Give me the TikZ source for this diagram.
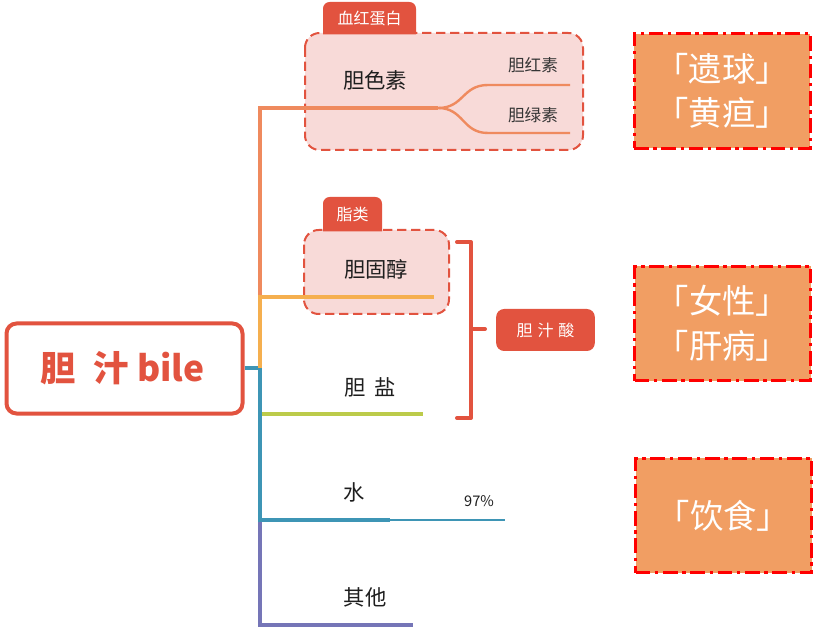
\documentclass[tikz,border=0pt]{standalone}
\usepackage{fontspec}
\setmainfont{Noto Sans CJK SC}
\definecolor{mred}{HTML}{E2533F}
\definecolor{csalmon}{HTML}{EF8A5E}
\definecolor{cyel}{HTML}{F5AF4F}
\definecolor{cgrn}{HTML}{BCCB4A}
\definecolor{cteal}{HTML}{3E95B5}
\definecolor{cpurp}{HTML}{7575B7}
\definecolor{pinkf}{HTML}{F8DAD8}
\definecolor{orf}{HTML}{F19E63}
\definecolor{dashred}{HTML}{FF0000}
\definecolor{txtdark}{HTML}{1E1E1E}
\begin{document}
\begin{tikzpicture}[x=0.75pt,y=-0.75pt,
  lbl/.style={font=\fontsize{16}{18}\selectfont, text=txtdark, inner sep=0pt},
  sublbl/.style={font=\fontsize{12.5}{14}\selectfont, text=txtdark!90, inner sep=0pt},
  rootbox/.style={draw=mred, line width=3pt, rounded corners=7.5pt, fill=white,
    minimum width=177pt, minimum height=67.5pt, inner sep=0pt,
    text=mred, font=\fontsize{26.5}{28}\selectfont\bfseries},
  dbox/.style={draw=mred, fill=pinkf, line width=1.5pt, rounded corners=11pt,
    dash pattern=on 7pt off 3.5pt},
  tagtext/.style={text=white, font=\fontsize{12}{14}\selectfont, inner sep=0pt},
  acidbox/.style={fill=mred, rounded corners=6pt, minimum width=74pt, minimum height=31.5pt,
    text=white, font=\fontsize{12}{14}\selectfont, inner sep=0pt},
  orbox/.style={fill=orf, draw=dashred, line width=2.25pt,
    dash pattern=on 11pt off 3.5pt on 2.5pt off 3.5pt,
    minimum width=132pt, minimum height=86pt, inner sep=0pt, align=center,
    text=white, font=\fontsize{25}{33.5}\selectfont},
  trunk/.style={line width=3.5pt},
  hline/.style={line width=2.4pt},
  thin/.style={line width=1.8pt}]
\useasboundingbox (0,0) rectangle (816,630);

% ---- coordinates
\coordinate (J) at (260,368);
\coordinate (b1a) at (317,108); \coordinate (b1b) at (438,108);
\coordinate (r1) at (488,85); \coordinate (r1e) at (570,85);
\coordinate (g1) at (488,133); \coordinate (g1e) at (570,133);
\coordinate (b2a) at (317,297); \coordinate (b2b) at (434,297);
\coordinate (b3a) at (317,414); \coordinate (b3b) at (423,414);
\coordinate (b4a) at (317,520); \coordinate (b4b) at (390,520); \coordinate (b4c) at (505,520);
\coordinate (b5a) at (317,625); \coordinate (b5b) at (413,625);

% ---- dashed group boxes and tags
\draw[dbox] (305,33) rectangle (583,150);
\fill[mred, rounded corners=5pt] (323,34.5) -- (323,2) -- (416,2) -- (416,34.5);
\node[tagtext] (tag1) at (369.5,18) {血红蛋白};

\draw[dbox] (304,230) rectangle (449,314);
\fill[mred, rounded corners=5pt] (323,231.5) -- (323,197) -- (382,197) -- (382,231.5);
\node[tagtext] (tag2) at (352.5,214) {脂类};

% ---- root
\node[rootbox] (root) at (124.5,368.5) {\hspace{-0.12em}胆\hspace{0.5em}汁\hspace{0.25em}bile};

% ---- branches (lower ones first)
\draw[cpurp, trunk] (J) |- (b5a);
\draw[cpurp, hline] (b5a) -- (b5b);
\draw[cgrn, trunk] (J) |- (b3a);
\draw[cgrn, hline] (b3a) -- (b3b);
\draw[cteal, trunk] (J) |- (b4a);
\draw[cteal, line width=3pt] (b4a) -- (b4b);
\draw[cteal, thin] (b4b) -- (b4c);
\draw[cteal, trunk] (root.east |- J) -- (J);

\draw[csalmon, trunk] (J) |- (b1a);
\draw[csalmon, hline] (b1a) -- (b1b);
\draw[csalmon, thin] (b1b) .. controls (464,108) and (462,85) .. (r1) -- (r1e);
\draw[csalmon, thin] (b1b) .. controls (464,108) and (462,133) .. (g1) -- (g1e);
\draw[cyel, trunk] (J) |- (b2a);
\draw[cyel, hline] (b2a) -- (b2b);

% ---- labels
\node[lbl] (dsu) at (375,80) {胆色素};
\node[sublbl] (dhs) at (533,65) {胆红素};
\node[sublbl] (dls) at (533,115) {胆绿素};
\node[lbl] (dgc) at (376,269) {胆固醇};
\node[lbl] (dy) at (370,387) {胆\hspace{0.4em}盐};
\node[lbl] (shui) at (354,492) {水};
\node[sublbl, font=\fontsize{11}{12}\selectfont, text=txtdark] (pct) at (479,501) {97\%};
\node[lbl] (qt) at (365,597) {其他};

% ---- bracket and bile acid
\coordinate (bt) at (471,242); \coordinate (bb) at (471,418); \coordinate (bm) at (471,329);
\node[acidbox] (acid) at (545.5,330) {胆\hspace{0.3em}汁\hspace{0.3em}酸};
\draw[mred, line width=3pt, line cap=round, line join=round]
  (457,242) -- (bt) -- (bb) -- (457,418);
\draw[mred, line width=3pt, line cap=round] (bm) -- (485,329);

% ---- orange notes
\node[orbox] (n1) at (722,91) {「遗球」\\「黄疸」};
\node[orbox] (n2) at (722.5,323.5) {「女性」\\「肝病」};
\node[orbox] (n3) at (723.5,515.5) {「饮食」};
\end{tikzpicture}
\end{document}
